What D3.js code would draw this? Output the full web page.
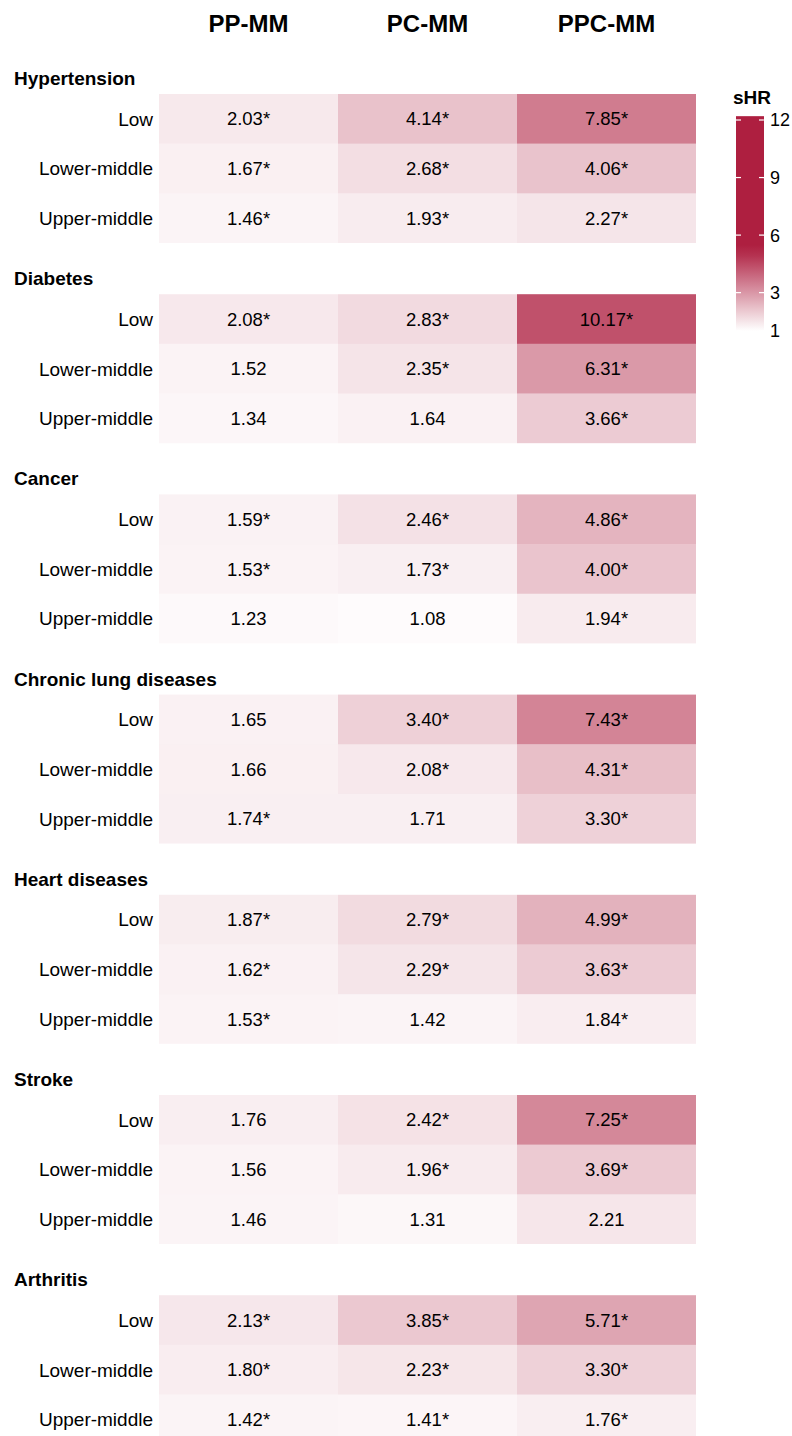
<!DOCTYPE html>
<html>
<head>
<meta charset="utf-8">
<script src="https://cdn.jsdelivr.net/npm/d3@7"></script>
<style>
  html, body { margin: 0; padding: 0; background: #ffffff; }
  svg text { font-family: "Liberation Sans", Arial, Helvetica, sans-serif; }
</style>
</head>
<body>
<svg id="chart" width="792" height="1436"></svg>
<script>
// Sub-distribution hazard ratios by disease, income level and multimorbidity pattern
const diseases = ["Hypertension", "Diabetes", "Cancer", "Chronic lung diseases",
                  "Heart diseases", "Stroke", "Arthritis"];
const incomeLevels = ["Low", "Lower-middle", "Upper-middle"];
const patterns = ["PP-MM", "PC-MM", "PPC-MM"];

// one value per disease x income level (disease-major order)
const ppmmValues  = [2.03, 1.67, 1.46,  2.08, 1.52, 1.34,  1.59, 1.53, 1.23,  1.65, 1.66, 1.74,
                     1.87, 1.62, 1.53,  1.76, 1.56, 1.46,  2.13, 1.80, 1.42];
const pcmmValues  = [4.14, 2.68, 1.93,  2.83, 2.35, 1.64,  2.46, 1.73, 1.08,  3.40, 2.08, 1.71,
                     2.79, 2.29, 1.42,  2.42, 1.96, 1.31,  3.85, 2.23, 1.41];
const ppcmmValues = [7.85, 4.06, 2.27, 10.17, 6.31, 3.66,  4.86, 4.00, 1.94,  7.43, 4.31, 3.30,
                     4.99, 3.63, 1.84,  7.25, 3.69, 2.21,  5.71, 3.30, 1.76];

// statistical significance flags (drawn as an asterisk)
const ppmmSig  = [1,1,1, 1,0,0, 1,1,0, 0,0,1, 1,1,1, 0,0,0, 1,1,1];
const pcmmSig  = [1,1,1, 1,1,0, 1,1,0, 1,1,0, 1,1,0, 1,1,0, 1,1,1];
const ppcmmSig = [1,1,1, 1,1,1, 1,1,1, 1,1,1, 1,1,1, 1,1,0, 1,1,1];

const legendTicks = [1, 3, 6, 9, 12];

const seriesValues = [ppmmValues, pcmmValues, ppcmmValues];
const seriesSig = [ppmmSig, pcmmSig, ppcmmSig];

const cells = [];
diseases.forEach((d, di) => {
  incomeLevels.forEach((lvl, li) => {
    patterns.forEach((p, pi) => {
      const k = di * incomeLevels.length + li;
      cells.push({ disease: d, level: lvl, pattern: p,
                   value: seriesValues[pi][k], sig: seriesSig[pi][k] === 1 });
    });
  });
});

const baseColor = "#ae1f40";
const svg = d3.select("#chart");

// layout scales
const x = d3.scaleBand().domain(patterns).range([159, 696]);
const groupY = d3.scaleBand().domain(diseases).range([44, 44 + 7 * 200.2]);
const rowY = d3.scaleBand().domain(incomeLevels).range([50, 199]);
const opacity = d3.scaleLinear().domain([1, 12]).range([0.01, 0.93]);

// column headers
svg.append("g").selectAll("text")
  .data(patterns)
  .join("text")
  .attr("x", d => x(d) + x.bandwidth() / 2)
  .attr("y", 32)
  .attr("text-anchor", "middle")
  .attr("font-size", 24)
  .attr("font-weight", "bold")
  .attr("fill", "#000")
  .text(d => d);

const groups = svg.append("g").selectAll("g.group")
  .data(diseases)
  .join("g")
  .attr("class", "group")
  .attr("transform", d => `translate(0,${groupY(d)})`);

// disease titles
groups.append("text")
  .attr("x", 14)
  .attr("y", 41)
  .attr("font-size", 19)
  .attr("font-weight", "bold")
  .attr("fill", "#000")
  .text(d => d);

// income level labels
groups.selectAll("text.level")
  .data(incomeLevels)
  .join("text")
  .attr("class", "level")
  .attr("x", 153)
  .attr("y", d => rowY(d) + rowY.bandwidth() / 2)
  .attr("dy", "0.36em")
  .attr("text-anchor", "end")
  .attr("font-size", 19)
  .attr("fill", "#000")
  .text(d => d);

// tiles
groups.selectAll("rect.cell")
  .data(d => cells.filter(c => c.disease === d))
  .join("rect")
  .attr("class", "cell")
  .attr("x", d => x(d.pattern))
  .attr("y", d => rowY(d.level))
  .attr("width", x.bandwidth())
  .attr("height", rowY.bandwidth())
  .attr("fill", baseColor)
  .attr("fill-opacity", d => opacity(d.value));

// value labels
groups.selectAll("text.value")
  .data(d => cells.filter(c => c.disease === d))
  .join("text")
  .attr("class", "value")
  .attr("x", d => x(d.pattern) + x.bandwidth() / 2)
  .attr("y", d => rowY(d.level) + rowY.bandwidth() / 2)
  .attr("dy", "0.36em")
  .attr("text-anchor", "middle")
  .attr("font-size", 18.5)
  .attr("fill", "#000")
  .text(d => d.value.toFixed(2) + (d.sig ? "*" : ""));

// colour bar legend
const legendScale = d3.scaleLinear().domain([1, 12]).range([331, 120]);
const legendColor = d3.scaleLinear().domain([1, 5.3]).range(["#ffffff", baseColor]).clamp(true);
const barTop = 12.2, barBottom = 1;
const barX = 736, barW = 28;

const defs = svg.append("defs");
const grad = defs.append("linearGradient")
  .attr("id", "shr-grad")
  .attr("x1", 0).attr("y1", 1).attr("x2", 0).attr("y2", 0);
const stopVals = d3.range(0, 21).map(i => barBottom + (barTop - barBottom) * i / 20);
grad.selectAll("stop")
  .data(stopVals)
  .join("stop")
  .attr("offset", d => (d - barBottom) / (barTop - barBottom))
  .attr("stop-color", d => legendColor(d));

const legend = svg.append("g");
legend.append("text")
  .attr("x", 733)
  .attr("y", 104)
  .attr("font-size", 19)
  .attr("font-weight", "bold")
  .attr("fill", "#000")
  .text("sHR");

legend.append("rect")
  .attr("x", barX)
  .attr("y", legendScale(barTop))
  .attr("width", barW)
  .attr("height", legendScale(barBottom) - legendScale(barTop))
  .attr("fill", "url(#shr-grad)");

legend.selectAll("line.tl")
  .data(legendTicks)
  .join("line")
  .attr("class", "tl")
  .attr("x1", barX).attr("x2", barX + 5)
  .attr("y1", d => legendScale(d)).attr("y2", d => legendScale(d))
  .attr("stroke", "#fff").attr("stroke-width", 1.2);
legend.selectAll("line.tr")
  .data(legendTicks)
  .join("line")
  .attr("class", "tr")
  .attr("x1", barX + barW - 5).attr("x2", barX + barW)
  .attr("y1", d => legendScale(d)).attr("y2", d => legendScale(d))
  .attr("stroke", "#fff").attr("stroke-width", 1.2);

legend.selectAll("text.tick")
  .data(legendTicks)
  .join("text")
  .attr("class", "tick")
  .attr("x", 770)
  .attr("y", d => legendScale(d))
  .attr("dy", "0.36em")
  .attr("font-size", 18)
  .attr("fill", "#000")
  .text(d => d);
</script>
</body>
</html>
